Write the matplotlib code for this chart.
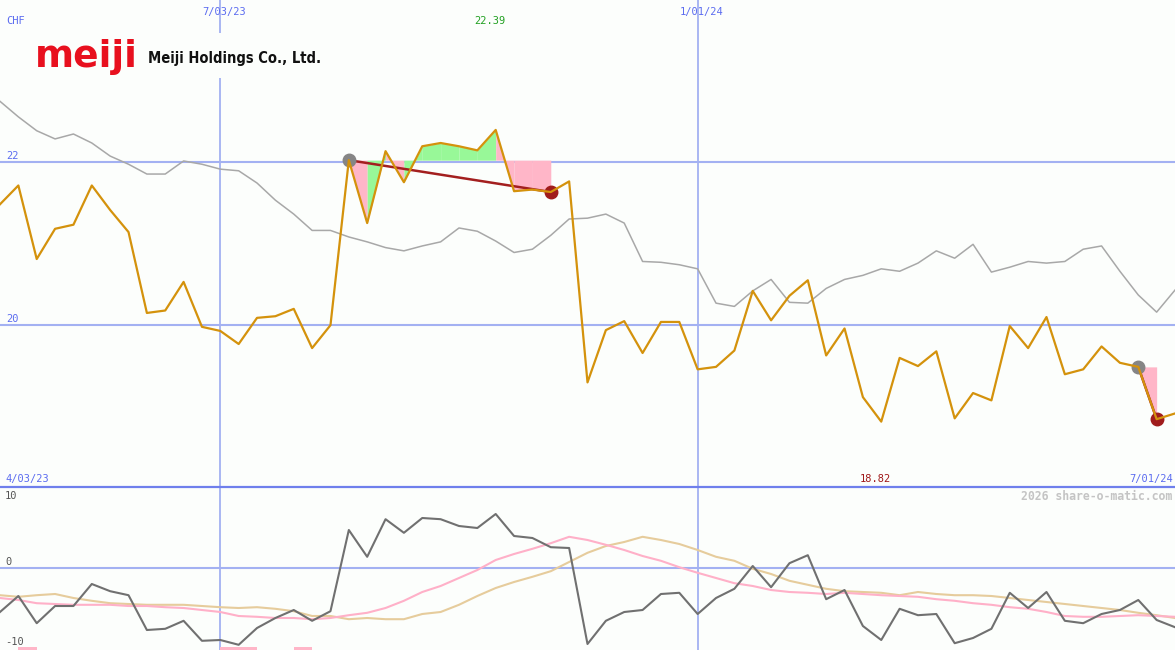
"""Meiji Holdings weekly price chart with momentum panel (share-o-matic style)."""

import matplotlib

matplotlib.use("Agg")
import matplotlib.pyplot as plt
import pandas as pd
from matplotlib.lines import Line2D
from matplotlib.patches import Rectangle

W, H = 1175, 650

# weekly closes (CHF) and their moving average
price = [
    21.48, 21.71, 20.81, 21.18, 21.23, 21.71, 21.41, 21.14, 20.15, 20.18,
    20.53, 19.98, 19.93, 19.77, 20.09, 20.11, 20.20, 19.72, 20.00, 22.02,
    21.25, 22.13, 21.75, 22.19, 22.23, 22.19, 22.14, 22.39, 21.64, 21.66,
    21.63, 21.76, 19.30, 19.94, 20.05, 19.66, 20.04, 20.04, 19.46, 19.49,
    19.69, 20.42, 20.06, 20.36, 20.55, 19.63, 19.96, 19.12, 18.82, 19.60,
    19.50, 19.68, 18.86, 19.17, 19.08, 19.99, 19.72, 20.10, 19.40, 19.46,
    19.74, 19.54, 19.49, 18.85, 18.92,
]
price_ma = [
    22.74, 22.55, 22.38, 22.28, 22.34, 22.23, 22.07, 21.97, 21.85, 21.85,
    22.01, 21.97, 21.91, 21.89, 21.74, 21.53, 21.36, 21.16, 21.16, 21.08,
    21.02, 20.95, 20.91, 20.97, 21.02, 21.19, 21.15, 21.03, 20.89, 20.93,
    21.10, 21.30, 21.31, 21.36, 21.25, 20.78, 20.77, 20.74, 20.69, 20.27,
    20.23, 20.42, 20.56, 20.28, 20.27, 20.45, 20.56, 20.61, 20.69, 20.66,
    20.76, 20.91, 20.82, 20.99, 20.65, 20.71, 20.78, 20.76, 20.78, 20.93,
    20.97, 20.66, 20.37, 20.16, 20.43,
]

# oscillator panel
momentum = [
    -5.5, -3.5, -6.9, -4.75, -4.75, -2.0, -2.9, -3.4, -7.75, -7.6,
    -6.6, -9.1, -9.0, -9.6, -7.5, -6.25, -5.25, -6.6, -5.4, 4.75,
    1.4, 6.1, 4.4, 6.25, 6.1, 5.25, 5.0, 6.75, 4.0, 3.75,
    2.6, 2.5, -9.5, -6.6, -5.5, -5.25, -3.25, -3.1, -5.75, -3.75,
    -2.6, 0.25, -2.4, 0.6, 1.6, -3.9, -2.75, -7.25, -9.0, -5.1,
    -5.9, -5.75, -9.4, -8.75, -7.6, -3.1, -5.0, -3.0, -6.6, -6.9,
    -5.75, -5.25, -4.0, -6.5, -7.4,
]
momentum_fast = [
    -3.75, -4.0, -4.4, -4.5, -4.6, -4.6, -4.6, -4.75, -4.75, -4.9,
    -5.0, -5.25, -5.5, -6.0, -6.1, -6.25, -6.25, -6.4, -6.25, -5.9,
    -5.6, -5.0, -4.1, -3.0, -2.25, -1.25, -0.25, 1.0, 1.75, 2.4,
    3.1, 3.9, 3.5, 2.9, 2.25, 1.5, 0.9, 0.1, -0.6, -1.25,
    -1.9, -2.25, -2.75, -3.0, -3.1, -3.25, -3.1, -3.25, -3.4, -3.5,
    -3.6, -3.9, -4.1, -4.4, -4.6, -4.9, -5.1, -5.5, -6.0, -6.1,
    -6.1, -6.0, -5.9, -6.0, -6.1,
]
momentum_slow = [
    -3.4, -3.6, -3.4, -3.25, -3.75, -4.1, -4.4, -4.5, -4.6, -4.6,
    -4.6, -4.75, -4.9, -5.0, -4.9, -5.1, -5.4, -6.0, -6.0, -6.4,
    -6.25, -6.4, -6.4, -5.75, -5.5, -4.6, -3.5, -2.5, -1.75, -1.1,
    -0.4, 0.75, 1.9, 2.75, 3.25, 3.9, 3.5, 3.0, 2.25, 1.4,
    0.9, -0.1, -0.75, -1.6, -2.1, -2.6, -2.9, -3.0, -3.1, -3.4,
    -3.0, -3.25, -3.4, -3.4, -3.5, -3.75, -4.0, -4.25, -4.5, -4.75,
    -5.0, -5.25, -5.6, -5.9, -6.25,
]
signal_weeks = [1, 12, 13, 16]          # weeks flagged at the bottom of the oscillator
highlights = [(19, 30), (62, 63)]       # (start week, end week) of swing markers

marker_dates = ["2023-07-03", "2024-01-01"]
price_levels = [20, 22]
osc_levels = [10, 0, -10]
start_label, end_label = "4/03/23", "7/01/24"
currency = "CHF"
brand = "meiji"
company = "Meiji Holdings Co., Ltd."
watermark = "2026 share-o-matic.com"

dates = pd.date_range("2023-04-10", periods=len(price), freq="7D")

BG = "#fcfefc"
GRID = "#a3b1f2"
BLUE_TXT = "#5b6cf0"
MONO = "DejaVu Sans Mono"


def label_date(d):
    d = pd.Timestamp(d)
    return f"{d.month}/{d.day:02d}/{d:%y}"


fig = plt.figure(figsize=(W / 100, H / 100), dpi=100, facecolor=BG)
split = 163 / H
ax = fig.add_axes([0, split, 1, 1 - split])
osc = fig.add_axes([0, 0, 1, split])
for a in (ax, osc):
    a.set_facecolor(BG)
    a.set_xlim(dates[0], dates[-1])
    a.axis("off")
ax.set_ylim(18.02, 23.98)
osc.set_ylim(-10.25, 10.125)

# reference lines
for lvl in price_levels:
    ax.axhline(lvl, color=GRID, lw=1.5, zorder=1)
    ax.text(0.005, lvl + 0.015, str(lvl), transform=ax.get_yaxis_transform(),
            color=BLUE_TXT, family=MONO, fontsize=7.5, va="bottom")
osc.axhline(0, color=GRID, lw=1.5, zorder=1)
for d in marker_dates:
    ax.axvline(pd.Timestamp(d), color=GRID, lw=1.3, zorder=1)
    osc.axvline(pd.Timestamp(d), color=GRID, lw=1.3, zorder=1)
    ax.annotate(label_date(d), xy=(pd.Timestamp(d), 1), xycoords=("data", "axes fraction"),
                xytext=(3, -9), textcoords="offset points", ha="center", va="center",
                color=BLUE_TXT, family=MONO, fontsize=7.5)

# swing highlights
for start, end in highlights:
    ref = price[start]
    for k in range(start, end):
        col = "#98f898" if price[k + 1] >= ref else "#ffb6c8"
        ax.fill_between(dates[k:k + 2], ref, price[k:k + 2], color=col, lw=0, zorder=2)

ax.plot(dates, price_ma, color="#a8a8a8", lw=1.1, zorder=3)

for start, end in highlights:
    ax.plot([dates[start], dates[end]], [price[start], price[end]], color="#a31f1f", lw=1.8, zorder=4)
    ax.plot(dates[start], price[start], "o", color="#858585", ms=9, zorder=4)
    ax.plot(dates[end], price[end], "o", color="#a01c1c", ms=9, zorder=4)

ax.plot(dates, price, color="#d4920c", lw=1.6, zorder=5)

# max / min labels
i_max = max(range(len(price)), key=lambda i: price[i])
i_min = min(range(len(price)), key=lambda i: price[i])
ax.annotate(f"{price[i_max]:.2f}", xy=(dates[i_max], 1), xycoords=("data", "axes fraction"),
            xytext=(-4.5, -15), textcoords="offset points", ha="center", va="center",
            color="#22a022", family=MONO, fontsize=7.5)
ax.annotate(f"{price[i_min]:.2f}", xy=(dates[i_min], 0), xycoords=("data", "axes fraction"),
            xytext=(-4.5, 6), textcoords="offset points", ha="center", va="center",
            color="#a01818", family=MONO, fontsize=7.5)

ax.text(0.005, 0.017, start_label, transform=ax.transAxes, color=BLUE_TXT,
        family=MONO, fontsize=7.5, va="center")
ax.text(0.998, 0.017, end_label, transform=ax.transAxes, color=BLUE_TXT,
        family=MONO, fontsize=7.5, va="center", ha="right")
ax.text(0.005, 1 - 21 / 487, currency, transform=ax.transAxes, color=BLUE_TXT,
        family=MONO, fontsize=7.5, va="center")

# oscillator
osc.bar(dates[signal_weeks], 0.4, bottom=-10.25, width=7, align="edge", color="#ffb6c8", lw=0)
osc.plot(dates, momentum_slow, color="#e6cc9c", lw=1.5, zorder=3)
osc.plot(dates, momentum_fast, color="#ffb0c8", lw=1.5, zorder=3)
osc.plot(dates, momentum, color="#707070", lw=1.5, zorder=4)
for lvl, yoff in zip(osc_levels, (496, 562, 642)):
    fig.text(5 / W, 1 - yoff / H, str(lvl), color="#555555", family=MONO,
             fontsize=7.5, va="center")
fig.text(1172 / W, 1 - 496 / H, watermark, color="#c4c4c4", family=MONO,
         fontsize=8.3, fontweight="bold", va="center", ha="right")

fig.add_artist(Line2D([0, 1], [split, split], color="#6f7fec", lw=1.6))

# logo block
fig.add_artist(Rectangle((25 / W, 1 - 78 / H), 305 / W, 45 / H, facecolor=BG,
                         edgecolor="none", zorder=6))
fig.text(35 / W, 1 - 67 / H, brand, color="#e8101e", fontsize=27, fontweight="heavy",
         va="baseline", zorder=7)
fig.text(148 / W, 1 - 63 / H, company, color="#111111", fontsize=10.5,
         fontweight="bold", fontstretch="condensed", va="baseline", zorder=7)

fig.savefig("out.png", dpi=100, facecolor=BG)
plt.close(fig)
